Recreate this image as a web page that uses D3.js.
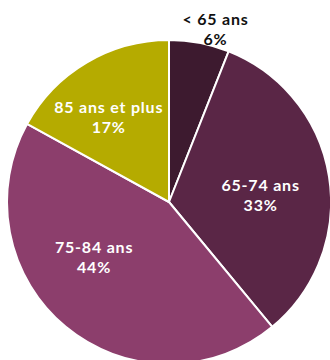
<!DOCTYPE html>
<html><head><meta charset="utf-8">
<script src="https://cdn.jsdelivr.net/npm/d3@7"></script>
<style>html,body{margin:0;padding:0;background:#fff;}svg{display:block;}</style>
</head><body>
<script>
const categories = ["< 65 ans", "65-74 ans", "75-84 ans", "85 ans et plus"];
const values = [6, 33, 44, 17];
const valueLabels = ["6%", "33%", "44%", "17%"];
const colors = ["#3d1a2f", "#5a2646", "#8c3e6c", "#b5ab00"];
const labelColors = ["#111", "#fff", "#fff", "#fff"];

const W = 330, H = 360, cx = 169, cy = 202, R = 162;
const svg = d3.select("body").append("svg").attr("width", W).attr("height", H);
const g = svg.append("g").attr("transform", `translate(${cx},${cy})`);

const pie = d3.pie().sort(null).value(d => d)(values);
const arc = d3.arc().innerRadius(0).outerRadius(R);
g.selectAll("path.slice").data(pie).join("path")
  .attr("class", "slice")
  .attr("d", arc)
  .attr("fill", (d, i) => colors[i])
  .attr("stroke", "#fff").attr("stroke-width", 2).attr("stroke-linejoin", "round");

// label anchor radii and fine offsets (styling)
const labelR = [1.07, 0.56, 0.6, 0.61];
const nudge = [[14, -2], [2, 8], [-13, -19], [-10, 1]];
const fontFam = "Lato, 'Open Sans', sans-serif";
pie.forEach((d, i) => {
  const a = (d.startAngle + d.endAngle) / 2;
  const r = R * labelR[i];
  const x = Math.sin(a) * r + nudge[i][0];
  const y = -Math.cos(a) * r + nudge[i][1];
  const t = g.append("text").attr("text-anchor", "middle")
    .attr("font-family", fontFam).attr("font-weight", 700).attr("font-size", 16)
    .attr("letter-spacing", 0.8)
    .attr("fill", labelColors[i]);
  t.append("tspan").attr("x", x).attr("y", y - 5).text(categories[i]);
  t.append("tspan").attr("x", x).attr("y", y + 15).text(valueLabels[i]);
});
</script>
</body></html>
